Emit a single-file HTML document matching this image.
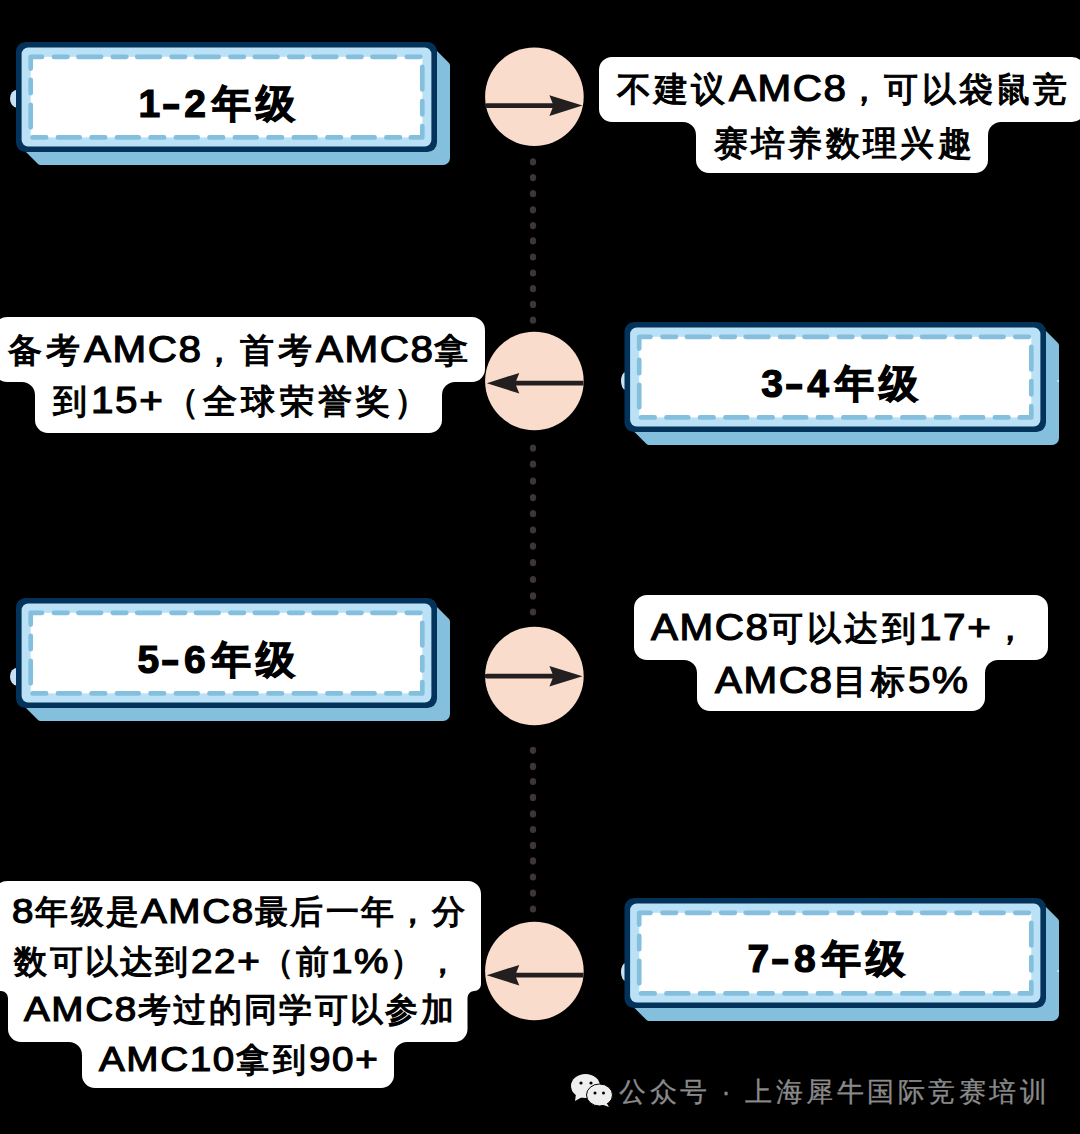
<!DOCTYPE html><html><head><meta charset="utf-8"><style>
html,body{margin:0;padding:0;background:#000;}
body{width:1080px;height:1134px;position:relative;overflow:hidden;font-family:"Liberation Sans",sans-serif;}
svg{position:absolute;left:0;top:0;}
.t{position:absolute;white-space:nowrap;line-height:1;}
.b{color:#000;font-weight:normal;-webkit-text-stroke:1.2px #000;}
.tt{color:#000;font-weight:bold;-webkit-text-stroke:1.2px #000;}
.w{color:#8a8a8a;font-weight:normal;-webkit-text-stroke:0.3px #8a8a8a;}
.dash{display:inline-block;transform:scaleX(1.45);}
.l{font-size:1.1em;display:inline-block;transform:scaleX(1.08);transform-origin:0 50%;letter-spacing:1.5px;}
</style></head><body>
<svg width="1080" height="1134" viewBox="0 0 1080 1134">
<path d="M612,57H1072A13,13 0 0 1 1085,70V109A13,13 0 0 1 1072,122H1001A13,13 0 0 0 988,135V160A13,13 0 0 1 975,173H709A13,13 0 0 1 696,160V135A13,13 0 0 0 683,122H612A13,13 0 0 1 599,109V70A13,13 0 0 1 612,57Z" fill="#fff"/>
<path d="M7,317H472A13,13 0 0 1 485,330V369A13,13 0 0 1 472,382H455A13,13 0 0 0 442,395V420A13,13 0 0 1 429,433H48A13,13 0 0 1 35,420V395A13,13 0 0 0 22,382H7A13,13 0 0 1 -6,369V330A13,13 0 0 1 7,317Z" fill="#fff"/>
<path d="M647,595H1035A13,13 0 0 1 1048,608V647A13,13 0 0 1 1035,660H998A13,13 0 0 0 985,673V698A13,13 0 0 1 972,711H710A13,13 0 0 1 697,698V673A13,13 0 0 0 684,660H647A13,13 0 0 1 634,647V608A13,13 0 0 1 647,595Z" fill="#fff"/>
<path d="M7,881H468A13,13 0 0 1 481,894V984.25A6.75,6.75 0 0 1 474.25,991H474.25A6.75,6.75 0 0 0 467.5,997.75V1029A13,13 0 0 1 454.5,1042H407A13,13 0 0 0 394,1055V1075A13,13 0 0 1 381,1088H95A13,13 0 0 1 82,1075V1055A13,13 0 0 0 69,1042H21A13,13 0 0 1 8,1029V998.0A7.0,7.0 0 0 0 1.0,991H1.0A7.0,7.0 0 0 1 -6,984.0V894A13,13 0 0 1 7,881Z" fill="#fff"/>
<path d="M437,51L449,63Q450,64 450,65.5V158A7,7 0 0 1 443,165H40.5Q39,165 38,164L26,152Z" fill="#84c0de"/>
<ellipse cx="17" cy="98.7" rx="7" ry="9" fill="#c7e2f5"/>
<rect x="16" y="42" width="421" height="110" rx="9.5" fill="#03325a"/>
<rect x="21.6" y="47.6" width="409.8" height="98.8" rx="6.5" fill="#bae1f6"/>
<rect x="30.7" y="56.8" width="391.6" height="80.60000000000001" fill="#fff"/>
<path d="M30.7,68.55V56.8H42.05M53.95,56.8h13.6M112.75,56.8h13.6M171.55,56.8h13.6M230.35,56.8h13.6M289.15,56.8h13.6M347.95,56.8h13.6M406.75,56.8h13.6M78.35,56.8h22.8M137.15,56.8h22.8M195.95,56.8h22.8M254.75,56.8h22.8M313.55,56.8h22.8M372.35,56.8h22.8M30.7,79.75V93.15M30.7,104.75V127.35M32.55,137.4h13.6M91.52,137.4h13.6M150.49,137.4h13.6M209.46,137.4h13.6M268.43,137.4h13.6M327.40,137.4h13.6M386.37,137.4h13.6M57.95,137.4h21.8M116.92,137.4h21.8M175.89,137.4h21.8M234.86,137.4h21.8M293.83,137.4h21.8M352.80,137.4h21.8M410.75,137.4H422.3V126.05M422.3,66.75V89.45M422.3,101.05V114.45" stroke="#84c0de" stroke-width="4.7" stroke-linecap="round" stroke-linejoin="round" fill="none"/>
<path d="M1046.0,331L1058.0,343Q1059.0,344 1059.0,345.5V438A7,7 0 0 1 1052.0,445H649.0Q647.5,445 646.5,444L634.5,432Z" fill="#84c0de"/>
<ellipse cx="625.5" cy="381" rx="4.5" ry="9" fill="#c7e2f5"/>
<rect x="624.5" y="322" width="421.5" height="110" rx="9.5" fill="#03325a"/>
<rect x="630.1" y="327.6" width="410.3" height="98.8" rx="6.5" fill="#bae1f6"/>
<rect x="639.2" y="336.8" width="392.0999999999999" height="80.59999999999997" fill="#fff"/>
<path d="M639.2,348.55V336.8H650.55M662.45,336.8h13.6M721.25,336.8h13.6M780.05,336.8h13.6M838.85,336.8h13.6M897.65,336.8h13.6M956.45,336.8h13.6M1015.25,336.8h13.6M686.85,336.8h22.8M745.65,336.8h22.8M804.45,336.8h22.8M863.25,336.8h22.8M922.05,336.8h22.8M980.85,336.8h22.8M639.2,359.75V373.15M639.2,384.75V407.35M641.05,417.4h13.6M700.02,417.4h13.6M758.99,417.4h13.6M817.96,417.4h13.6M876.93,417.4h13.6M935.90,417.4h13.6M994.87,417.4h13.6M666.45,417.4h21.8M725.42,417.4h21.8M784.39,417.4h21.8M843.36,417.4h21.8M902.33,417.4h21.8M961.30,417.4h21.8M1019.75,417.4H1031.3V406.05M1031.3,346.75V369.45M1031.3,381.05V394.45" stroke="#84c0de" stroke-width="4.7" stroke-linecap="round" stroke-linejoin="round" fill="none"/>
<circle cx="1058.0" cy="381" r="1" fill="#dfeefa"/>
<path d="M437,607L449,619Q450,620 450,621.5V714A7,7 0 0 1 443,721H40.5Q39,721 38,720L26,708Z" fill="#84c0de"/>
<ellipse cx="17" cy="676.7" rx="7" ry="9" fill="#c7e2f5"/>
<rect x="16" y="598" width="421" height="110" rx="9.5" fill="#03325a"/>
<rect x="21.6" y="603.6" width="409.8" height="98.8" rx="6.5" fill="#bae1f6"/>
<rect x="30.7" y="612.8" width="391.6" height="80.60000000000002" fill="#fff"/>
<path d="M30.7,624.55V612.8H42.05M53.95,612.8h13.6M112.75,612.8h13.6M171.55,612.8h13.6M230.35,612.8h13.6M289.15,612.8h13.6M347.95,612.8h13.6M406.75,612.8h13.6M78.35,612.8h22.8M137.15,612.8h22.8M195.95,612.8h22.8M254.75,612.8h22.8M313.55,612.8h22.8M372.35,612.8h22.8M30.7,635.75V649.15M30.7,660.75V683.35M32.55,693.4h13.6M91.52,693.4h13.6M150.49,693.4h13.6M209.46,693.4h13.6M268.43,693.4h13.6M327.40,693.4h13.6M386.37,693.4h13.6M57.95,693.4h21.8M116.92,693.4h21.8M175.89,693.4h21.8M234.86,693.4h21.8M293.83,693.4h21.8M352.80,693.4h21.8M410.75,693.4H422.3V682.05M422.3,622.75V645.45M422.3,657.05V670.45" stroke="#84c0de" stroke-width="4.7" stroke-linecap="round" stroke-linejoin="round" fill="none"/>
<path d="M1046.0,907L1058.0,919Q1059.0,920 1059.0,921.5V1014A7,7 0 0 1 1052.0,1021H649.0Q647.5,1021 646.5,1020L634.5,1008Z" fill="#84c0de"/>
<ellipse cx="625.5" cy="972" rx="4.5" ry="9" fill="#c7e2f5"/>
<rect x="624.5" y="898" width="421.5" height="110" rx="9.5" fill="#03325a"/>
<rect x="630.1" y="903.6" width="410.3" height="98.8" rx="6.5" fill="#bae1f6"/>
<rect x="639.2" y="912.8" width="392.0999999999999" height="80.60000000000002" fill="#fff"/>
<path d="M639.2,924.55V912.8H650.55M662.45,912.8h13.6M721.25,912.8h13.6M780.05,912.8h13.6M838.85,912.8h13.6M897.65,912.8h13.6M956.45,912.8h13.6M1015.25,912.8h13.6M686.85,912.8h22.8M745.65,912.8h22.8M804.45,912.8h22.8M863.25,912.8h22.8M922.05,912.8h22.8M980.85,912.8h22.8M639.2,935.75V949.15M639.2,960.75V983.35M641.05,993.4h13.6M700.02,993.4h13.6M758.99,993.4h13.6M817.96,993.4h13.6M876.93,993.4h13.6M935.90,993.4h13.6M994.87,993.4h13.6M666.45,993.4h21.8M725.42,993.4h21.8M784.39,993.4h21.8M843.36,993.4h21.8M902.33,993.4h21.8M961.30,993.4h21.8M1019.75,993.4H1031.3V982.05M1031.3,922.75V945.45M1031.3,957.05V970.45" stroke="#84c0de" stroke-width="4.7" stroke-linecap="round" stroke-linejoin="round" fill="none"/>
<circle cx="1058.0" cy="971" r="1" fill="#dfeefa"/>
<circle cx="534.4" cy="96.7" r="49.3" fill="#f9dccb"/>
<line x1="487" y1="105.6" x2="560" y2="105.6" stroke="#231f20" stroke-width="4.8" stroke-linecap="round"/>
<path d="M582.5,105.6 L549.4,95.3 L553.5,105.6 L549.4,115.89999999999999Z" fill="#231f20"/>
<circle cx="534.4" cy="381" r="49.3" fill="#f9dccb"/>
<line x1="510" y1="383.2" x2="583.5" y2="383.2" stroke="#231f20" stroke-width="4.8"/>
<path d="M486.8,383.2 L519.3,372.9 L515.2,383.2 L519.3,393.5Z" fill="#231f20"/>
<circle cx="534.4" cy="676" r="49.3" fill="#f9dccb"/>
<line x1="487" y1="676.2" x2="560" y2="676.2" stroke="#231f20" stroke-width="4.8" stroke-linecap="round"/>
<path d="M582.5,676.2 L549.4,665.9000000000001 L553.5,676.2 L549.4,686.5Z" fill="#231f20"/>
<circle cx="534.4" cy="971" r="49.3" fill="#f9dccb"/>
<line x1="510" y1="975.2" x2="583.5" y2="975.2" stroke="#231f20" stroke-width="4.8"/>
<path d="M486.8,975.2 L519.3,964.9000000000001 L515.2,975.2 L519.3,985.5Z" fill="#231f20"/>
<ellipse cx="533" cy="161.9" rx="3.2" ry="3.6" fill="#3e353a"/>
<ellipse cx="533" cy="177.6" rx="3.2" ry="3.6" fill="#3e353a"/>
<ellipse cx="533" cy="193.7" rx="3.2" ry="3.6" fill="#3e353a"/>
<ellipse cx="533" cy="209.8" rx="3.2" ry="3.6" fill="#3e353a"/>
<ellipse cx="533" cy="225.6" rx="3.2" ry="3.6" fill="#3e353a"/>
<ellipse cx="533" cy="240.9" rx="3.2" ry="3.6" fill="#3e353a"/>
<ellipse cx="533" cy="257" rx="3.2" ry="3.6" fill="#3e353a"/>
<ellipse cx="533" cy="273" rx="3.2" ry="3.6" fill="#3e353a"/>
<ellipse cx="533" cy="288.7" rx="3.2" ry="3.6" fill="#3e353a"/>
<ellipse cx="533" cy="304.4" rx="3.2" ry="3.6" fill="#3e353a"/>
<ellipse cx="533" cy="320.2" rx="3.2" ry="3.6" fill="#3e353a"/>
<ellipse cx="533" cy="448.1" rx="3.2" ry="3.6" fill="#3e353a"/>
<ellipse cx="533" cy="464.2" rx="3.2" ry="3.6" fill="#3e353a"/>
<ellipse cx="533" cy="481.1" rx="3.2" ry="3.6" fill="#3e353a"/>
<ellipse cx="533" cy="497.6" rx="3.2" ry="3.6" fill="#3e353a"/>
<ellipse cx="533" cy="513.7" rx="3.2" ry="3.6" fill="#3e353a"/>
<ellipse cx="533" cy="530" rx="3.2" ry="3.6" fill="#3e353a"/>
<ellipse cx="533" cy="546.1" rx="3.2" ry="3.6" fill="#3e353a"/>
<ellipse cx="533" cy="562.6" rx="3.2" ry="3.6" fill="#3e353a"/>
<ellipse cx="533" cy="579.5" rx="3.2" ry="3.6" fill="#3e353a"/>
<ellipse cx="533" cy="595.9" rx="3.2" ry="3.6" fill="#3e353a"/>
<ellipse cx="533" cy="612" rx="3.2" ry="3.6" fill="#3e353a"/>
<ellipse cx="533" cy="750.3" rx="3.2" ry="3.6" fill="#3e353a"/>
<ellipse cx="533" cy="766.4" rx="3.2" ry="3.6" fill="#3e353a"/>
<ellipse cx="533" cy="781.5" rx="3.2" ry="3.6" fill="#3e353a"/>
<ellipse cx="533" cy="797.4" rx="3.2" ry="3.6" fill="#3e353a"/>
<ellipse cx="533" cy="813.9" rx="3.2" ry="3.6" fill="#3e353a"/>
<ellipse cx="533" cy="829.5" rx="3.2" ry="3.6" fill="#3e353a"/>
<ellipse cx="533" cy="845.4" rx="3.2" ry="3.6" fill="#3e353a"/>
<ellipse cx="533" cy="860.9" rx="3.2" ry="3.6" fill="#3e353a"/>
<ellipse cx="533" cy="877" rx="3.2" ry="3.6" fill="#3e353a"/>
<ellipse cx="533" cy="893.1" rx="3.2" ry="3.6" fill="#3e353a"/>
<ellipse cx="533" cy="909" rx="3.2" ry="3.6" fill="#3e353a"/>
<g fill="#efefef">
<ellipse cx="585.5" cy="1086" rx="14.5" ry="12"/>
<path d="M576,1094 L575,1101 L584,1096Z"/>
<ellipse cx="599.5" cy="1095" rx="13" ry="11" stroke="#000" stroke-width="1"/>
<path d="M606,1102 L609,1107 L601,1104Z"/>
</g>
<g fill="#000"><circle cx="581" cy="1083" r="1.6"/><circle cx="591" cy="1083" r="1.6"/><circle cx="595" cy="1093" r="1.5"/><circle cx="603.5" cy="1093" r="1.5"/></g>

</svg>
<div class="t b" style="left:616.80px;top:70.30px;font-size:34px;letter-spacing:3.23px">不建议<span class="l" style="margin-right:8.80px">AMC8</span>，可以袋鼠竞</div>
<div class="t b" style="left:713.60px;top:125.50px;font-size:34px;letter-spacing:3.33px">赛培养数理兴趣</div>
<div class="t b" style="left:8.30px;top:331.00px;font-size:34px;letter-spacing:3.75px">备考<span class="l" style="margin-right:8.80px">AMC8</span>，首考<span class="l" style="margin-right:8.80px">AMC8</span>拿</div>
<div class="t b" style="left:52.80px;top:382.40px;font-size:34px;letter-spacing:4.33px">到<span class="l" style="margin-right:5.44px">15+</span>（全球荣誉奖）</div>
<div class="t b" style="left:650.60px;top:609.10px;font-size:34px;letter-spacing:3.53px"><span class="l" style="margin-right:8.80px">AMC8</span>可以达到<span class="l" style="margin-right:5.44px">17+</span>，</div>
<div class="t b" style="left:714.70px;top:661.60px;font-size:34px;letter-spacing:3.39px"><span class="l" style="margin-right:8.80px">AMC8</span>目标<span class="l" style="margin-right:4.56px">5%</span></div>
<div class="t b" style="left:12.30px;top:893.60px;font-size:32.5px;letter-spacing:2.34px"><span class="l" style="margin-right:1.68px">8</span>年级是<span class="l" style="margin-right:8.40px">AMC8</span>最后一年，分</div>
<div class="t b" style="left:14.40px;top:943.60px;font-size:32.5px;letter-spacing:2.22px">数可以达到<span class="l" style="margin-right:5.20px">22+</span>（前<span class="l" style="margin-right:4.40px">1%</span>），</div>
<div class="t b" style="left:24.40px;top:992.10px;font-size:32.5px;letter-spacing:2.32px"><span class="l" style="margin-right:8.40px">AMC8</span>考过的同学可以参加</div>
<div class="t b" style="left:98.90px;top:1041.90px;font-size:32.5px;letter-spacing:3.77px"><span class="l" style="margin-right:10.16px">AMC10</span>拿到<span class="l" style="margin-right:5.20px">90+</span></div>
<div class="t tt" style="left:138.40px;top:83.90px;font-size:39px;letter-spacing:5.60px">1<span class="dash">-</span>2年级</div>
<div class="t tt" style="left:761.30px;top:363.90px;font-size:39px;letter-spacing:5.65px">3<span class="dash">-</span>4年级</div>
<div class="t tt" style="left:137.50px;top:640.20px;font-size:39px;letter-spacing:5.88px">5<span class="dash">-</span>6年级</div>
<div class="t tt" style="left:747.50px;top:939.30px;font-size:39px;letter-spacing:5.88px">7<span class="dash">-</span>8年级</div>
<div class="t w" style="left:619.00px;top:1078.50px;font-size:27px;letter-spacing:3.53px">公众号 · 上海犀牛国际竞赛培训</div>
</body></html>
